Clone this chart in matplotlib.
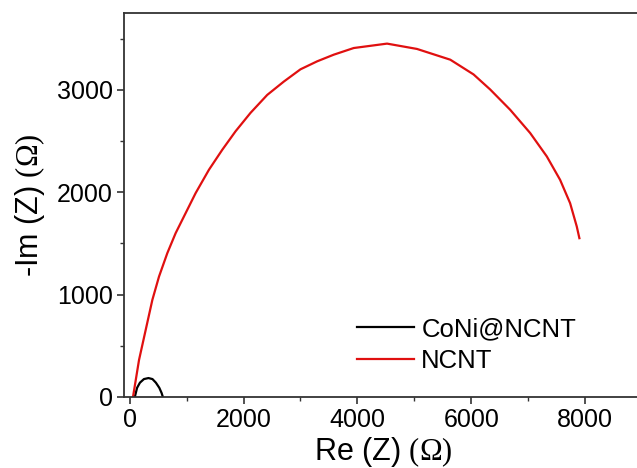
import matplotlib
matplotlib.use("Agg")
import matplotlib.pyplot as plt
from matplotlib.ticker import MultipleLocator

plt.rcParams['font.family'] = ['Liberation Sans', 'DejaVu Sans']
plt.rcParams['mathtext.fontset'] = 'custom'
plt.rcParams['mathtext.rm'] = 'Liberation Serif'

# Data
coni_x = [90, 130, 180, 250, 330, 400, 460, 520, 560, 580]
coni_y = [0, 90, 140, 175, 185, 175, 140, 90, 40, 5]

ncnt_x = [58, 164, 281, 398, 515, 661, 807, 982, 1158, 1392, 1626, 1860,
          2123, 2416, 2707, 3000, 3293, 3585, 3936, 4521, 5047, 5632, 6041,
          6333, 6684, 7035, 7328, 7561, 7737, 7854, 7900]
ncnt_y = [0, 362, 655, 948, 1176, 1405, 1600, 1795, 1991, 2219, 2414, 2595,
          2775, 2950, 3080, 3200, 3278, 3343, 3408, 3451, 3399, 3294, 3150,
          3003, 2805, 2578, 2349, 2121, 1893, 1665, 1551]

labels = ['CoNi@NCNT', 'NCNT']
x_label = r'Re (Z) $\mathrm{(\Omega)}$'
y_label = r'-Im (Z) $\mathrm{(\Omega)}$'

fig = plt.figure(figsize=(6.37, 4.68), dpi=100)
ax = fig.add_axes([124/637, 1-397/468, 518/637, 384/468])

ax.plot(coni_x, coni_y, color='black', lw=1.6, label=labels[0])
ax.plot(ncnt_x, ncnt_y, color='#e01010', lw=1.6, label=labels[1])

ax.set_xlim(-100, 9000)
ax.set_ylim(0, 3750)
ax.xaxis.set_major_locator(MultipleLocator(2000))
ax.xaxis.set_minor_locator(MultipleLocator(1000))
ax.yaxis.set_major_locator(MultipleLocator(1000))
ax.yaxis.set_minor_locator(MultipleLocator(500))

for s in ax.spines.values():
    s.set_color('#333333')
    s.set_linewidth(1.3)
ax.spines['right'].set_visible(False)

ax.tick_params(which='major', direction='out', length=5, width=1.2,
               labelsize=18, color='#333333', pad=3)
ax.tick_params(which='minor', direction='out', length=3, width=1.0,
               color='#333333')
ax.tick_params(top=False, right=False, which='both')

ax.set_xlabel(x_label, fontsize=22, labelpad=2)
ax.set_ylabel(y_label, fontsize=22, labelpad=7)

leg = ax.legend(loc='upper left', bbox_to_anchor=(0.43, 0.235), frameon=False,
                fontsize=18.5, handlelength=2.2, handletextpad=0.3,
                labelspacing=0.3, borderaxespad=0)

fig.savefig('out.png', dpi=100)
